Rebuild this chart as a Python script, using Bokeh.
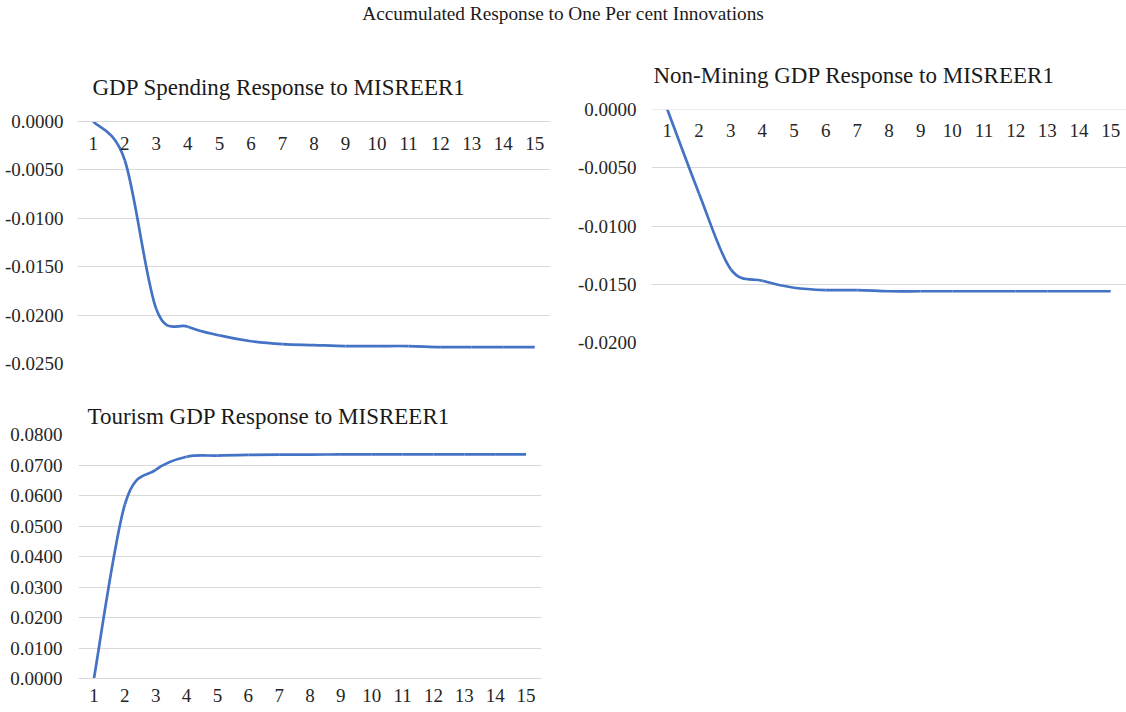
from bokeh.plotting import figure
from bokeh.layouts import column, row
from bokeh.models import Range1d, FixedTicker, NumeralTickFormatter, Div
from bokeh.embed import file_html
from bokeh.resources import INLINE

# ---------------- data ----------------
periods = list(range(1, 16))
period_labels = [str(v) for v in periods]

gdp_spending = [0.0000, -0.0040, -0.0194, -0.0212, -0.0221, -0.0227, -0.0230,
                -0.0231, -0.0232, -0.0232, -0.0232, -0.0233, -0.0233, -0.0233, -0.0233]
non_mining = [0.0000, -0.0072, -0.0137, -0.0147, -0.0153, -0.0155, -0.0155,
              -0.0156, -0.0156, -0.0156, -0.0156, -0.0156, -0.0156, -0.0156, -0.0156]
tourism = [0.0000, 0.0570, 0.0684, 0.0727, 0.0731, 0.0733, 0.0734,
           0.0734, 0.0735, 0.0735, 0.0735, 0.0735, 0.0735, 0.0735, 0.0735]

ticks_spending = [0.0, -0.005, -0.010, -0.015, -0.020, -0.025]
ticks_non_mining = [0.0, -0.005, -0.010, -0.015, -0.020]
ticks_tourism = [0.0, 0.01, 0.02, 0.03, 0.04, 0.05, 0.06, 0.07, 0.08]

main_title = "Accumulated Response to One Per cent Innovations"
title_spending = "GDP Spending Response to MISREER1"
title_non_mining = "Non-Mining GDP Response to MISREER1"
title_tourism = "Tourism GDP Response to MISREER1"

FONT = "Liberation Serif"
LINE = "#4472C4"
GRID = "#D9D9D9"
TXT = "#262626"


def smooth(xs, ys):
    """Bezier segments through the data points (spreadsheet-style smoothed line)."""
    n = len(xs)
    d = dict(x0=[], y0=[], x1=[], y1=[], cx0=[], cy0=[], cx1=[], cy1=[])
    for i in range(n - 1):
        a = i - 1 if i > 0 else i
        b = i + 2 if i + 2 < n else i + 1
        d["x0"].append(xs[i]); d["y0"].append(ys[i])
        d["x1"].append(xs[i + 1]); d["y1"].append(ys[i + 1])
        d["cx0"].append(xs[i] + (xs[i + 1] - xs[a]) / 6.0)
        d["cy0"].append(ys[i] + (ys[i + 1] - ys[a]) / 6.0)
        d["cx1"].append(xs[i + 1] - (xs[b] - xs[i]) / 6.0)
        d["cy1"].append(ys[i + 1] - (ys[b] - ys[i]) / 6.0)
    return d


def make_chart(title, values, yticks, y0, y1, width, height, borders,
               title_offset, title_standoff, x_at_zero, y_standoff, x_standoff):
    p = figure(width=width, height=height, output_backend="svg",
               toolbar_location=None, x_range=Range1d(0.5, 15.5),
               y_range=Range1d(y0, y1), title=title)
    p.min_border_top, p.min_border_right, p.min_border_bottom, p.min_border_left = borders
    p.outline_line_color = None
    p.background_fill_color = "white"
    p.border_fill_color = "white"

    p.title.text_font = FONT
    p.title.text_font_size = "23px"
    p.title.text_font_style = "normal"
    p.title.text_color = "#1a1a1a"
    p.title.align = "left"
    p.title.offset = title_offset
    p.title.standoff = title_standoff

    p.xgrid.visible = False
    p.ygrid.grid_line_color = GRID
    p.ygrid.grid_line_width = 1
    p.yaxis.ticker = FixedTicker(ticks=yticks)
    p.ygrid.ticker = FixedTicker(ticks=yticks)
    p.yaxis.formatter = NumeralTickFormatter(format="0.0000")
    p.yaxis.axis_line_color = None
    p.yaxis.major_tick_line_color = None
    p.yaxis.minor_tick_line_color = None
    p.yaxis.major_tick_out = 0
    p.yaxis.major_tick_in = 0
    p.yaxis.minor_tick_out = 0
    p.yaxis.major_label_text_font = FONT
    p.yaxis.major_label_text_font_size = "19px"
    p.yaxis.major_label_text_color = TXT
    p.yaxis.major_label_standoff = y_standoff

    p.xaxis.ticker = FixedTicker(ticks=periods)
    p.xaxis.major_label_overrides = {v: lab for v, lab in zip(periods, period_labels)}
    p.xaxis.axis_line_color = GRID
    p.xaxis.major_tick_line_color = None
    p.xaxis.minor_tick_line_color = None
    p.xaxis.major_tick_out = 0
    p.xaxis.major_tick_in = 0
    p.xaxis.minor_tick_out = 0
    p.xaxis.major_label_text_font = FONT
    p.xaxis.major_label_text_font_size = "19px"
    p.xaxis.major_label_text_color = TXT
    p.xaxis.major_label_standoff = x_standoff
    if x_at_zero:
        p.xaxis.fixed_location = 0

    seg = smooth(periods, values)
    p.bezier(x0="x0", y0="y0", x1="x1", y1="y1", cx0="cx0", cy0="cy0",
             cx1="cx1", cy1="cy1", source=seg, line_color=LINE, line_width=2.7)
    return p


# the two upper charts share a frame top; the first one keeps a little room above zero
headroom_spending = 0.025 * 12 / 242

# borders: (top, right, bottom, left)
p1 = make_chart(title_spending, gdp_spending, ticks_spending, -0.025, headroom_spending,
                560, 368, (81, 10, 33, 77), 15, 20, True, 14, 15)
p2 = make_chart(title_non_mining, non_mining, ticks_non_mining, -0.020, 0.0,
                566, 347, (81, 0, 33, 91), 2, 44, True, 15, 14)
p3 = make_chart(title_tourism, tourism, ticks_tourism, 0.0, 0.08,
                560, 312, (38, 19, 30, 78), 9, 11, False, 16, 10)

header = Div(text=('<div style="width:1126px;text-align:center;font-family:\'Liberation Serif\';'
                   'font-size:19.3px;line-height:28px;margin:0;padding:0;color:#1a1a1a;">'
                   + main_title + '</div>'),
             width=1126, height=28, margin=(0, 0, 0, 0))

layout = column(row(header), row(p1, p2), p3)

open("out.html", "w").write(file_html(layout, INLINE))
